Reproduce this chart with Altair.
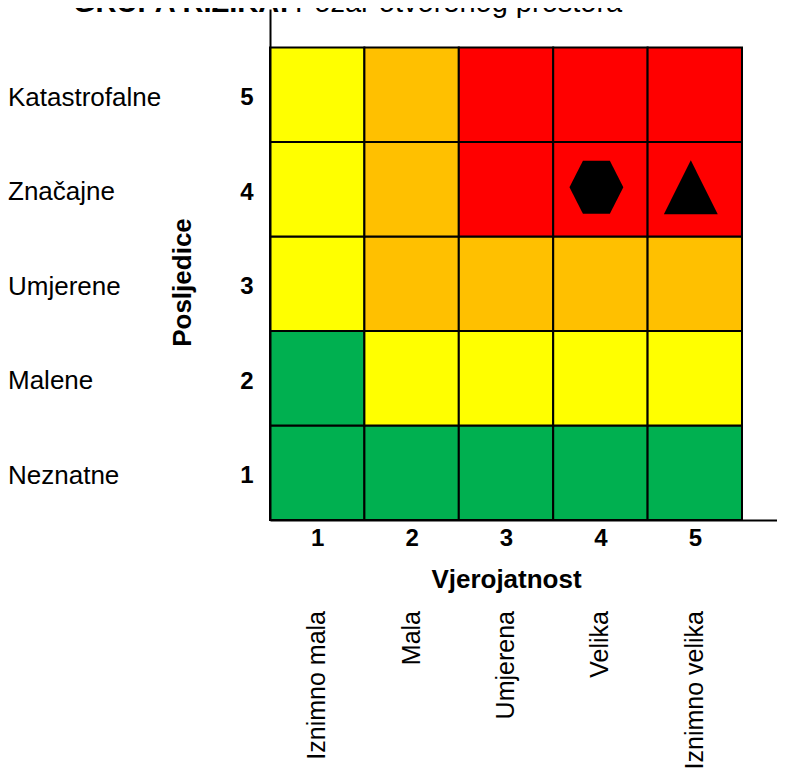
import altair as alt
import pandas as pd

# ---- data -------------------------------------------------------------
prob_values = [1, 2, 3, 4, 5]
prob_labels = ["Iznimno mala", "Mala", "Umjerena", "Velika", "Iznimno velika"]
cons_values = [1, 2, 3, 4, 5]
cons_labels = ["Neznatne", "Malene", "Umjerene", "Značajne", "Katastrofalne"]

# risk level of each cell: one list per consequence row (1..5), columns = probability 1..5
risk_row_1 = ["Nizak", "Nizak", "Nizak", "Nizak", "Nizak"]
risk_row_2 = ["Nizak", "Umjeren", "Umjeren", "Umjeren", "Umjeren"]
risk_row_3 = ["Umjeren", "Visok", "Visok", "Visok", "Visok"]
risk_row_4 = ["Umjeren", "Visok", "Vrlo visok", "Vrlo visok", "Vrlo visok"]
risk_row_5 = ["Umjeren", "Visok", "Vrlo visok", "Vrlo visok", "Vrlo visok"]
risk_levels = ["Nizak", "Umjeren", "Visok", "Vrlo visok"]
risk_colors = ["#00B050", "#FFFF00", "#FFC000", "#FF0000"]

marker_names = ["Šesterokut", "Trokut"]
marker_prob = [4, 5]
marker_cons = [4, 4]
marker_paths = [
    "M-1,0L-0.5,-0.98L0.5,-0.98L1,0L0.5,0.98L-0.5,0.98Z",
    "M0,-1L1,1L-1,1Z",
]

title_bold = "GRUPA RIZIKA:"
title_rest = "Požar otvorenog prostora"
x_title = "Vjerojatnost"
y_title = "Posljedice"

# ---- tables -----------------------------------------------------------
rows = [risk_row_1, risk_row_2, risk_row_3, risk_row_4, risk_row_5]
cells = pd.DataFrame(
    [
        {"p": p, "c": c, "rizik": rows[ci][pi]}
        for ci, c in enumerate(cons_values)
        for pi, p in enumerate(prob_values)
    ]
)
prob_df = pd.DataFrame({"p": prob_values, "label": prob_labels})
cons_df = pd.DataFrame({"c": cons_values, "label": cons_labels})
markers = pd.DataFrame({"p": marker_prob, "c": marker_cons, "marker": marker_names})
title_df1 = pd.DataFrame({"t": [title_bold]})
title_df2 = pd.DataFrame({"t": [title_rest]})

FONT = "Liberation Sans, Arial, Helvetica, sans-serif"
PAD_L = 262
PLOT_W = 507
PLOT_H = 511
PAD_T = 1
PAD_B = 249
CELL_W = 94.4
CELL_H = 94.5
X_MAX = 0.5 + PLOT_W / CELL_W
Y_MAX = 0.5 + PLOT_H / CELL_H

xscale = alt.Scale(domain=[0.5, X_MAX], nice=False, zero=False)
yscale = alt.Scale(domain=[0.5, Y_MAX], nice=False, zero=False)

xaxis = alt.Axis(
    values=prob_values, format="d", ticks=False, grid=False,
    domainColor="black", domainWidth=2, zindex=1,
    labelFont=FONT, labelFontSize=24, labelFontWeight="bold", labelColor="black",
    labelPadding=6,
    title=x_title, titleFont=FONT, titleFontSize=26, titleFontWeight="bold",
    titleColor="black", titleX=236, titleY=67, titleAlign="center",
    titleBaseline="alphabetic", titleAnchor="start",
)
yaxis = alt.Axis(
    values=cons_values, format="d", ticks=False, grid=False,
    domainColor="black", domainWidth=2, zindex=1,
    labelFont=FONT, labelFontSize=24, labelFontWeight="bold", labelColor="black",
    labelPadding=17, labelOffset=3,
    title=y_title, titleFont=FONT, titleFontSize=26, titleFontWeight="bold",
    titleColor="black", titleX=-88, titleY=273, titleAngle=270,
    titleAlign="center", titleBaseline="middle", titleAnchor="start",
)

X = alt.X("p:Q", scale=xscale, axis=xaxis)
Y = alt.Y("c:Q", scale=yscale, axis=yaxis)

grid = (
    alt.Chart(cells)
    .transform_calculate(p0="datum.p - 0.5", p1="datum.p + 0.5",
                         c0="datum.c - 0.5", c1="datum.c + 0.5")
    .mark_rect(stroke="black", strokeWidth=2)
    .encode(
        x=alt.X("p0:Q", scale=xscale, axis=xaxis),
        x2="p1:Q",
        y=alt.Y("c0:Q", scale=yscale, axis=yaxis),
        y2="c1:Q",
        color=alt.Color("rizik:N", scale=alt.Scale(domain=risk_levels, range=risk_colors), legend=None),
    )
)

pts = (
    alt.Chart(markers)
    .mark_point(filled=True, opacity=1, color="black", strokeWidth=0)
    .encode(
        x=X, y=Y,
        shape=alt.Shape("marker:N", scale=alt.Scale(domain=marker_names, range=marker_paths), legend=None),
        size=alt.value(2900),
        xOffset=alt.value(-4),
        yOffset=alt.value(-2),
    )
)

cons_text = (
    alt.Chart(cons_df)
    .mark_text(align="left", baseline="middle", dy=3, font=FONT, fontSize=26, color="black")
    .encode(x=alt.value(-262), y=Y, text="label:N")
)

prob_text = (
    alt.Chart(prob_df)
    .mark_text(align="right", baseline="middle", angle=270, font=FONT, fontSize=25, color="black")
    .encode(x=X, y=alt.value(602), text="label:N")
)

t1 = (
    alt.Chart(title_df1)
    .mark_text(align="left", baseline="alphabetic", font=FONT, fontSize=29,
               fontWeight="bold", color="black")
    .encode(x=alt.value(-197), y=alt.value(3), text="t:N")
)
t2 = (
    alt.Chart(title_df2)
    .mark_text(align="left", baseline="alphabetic", font=FONT, fontSize=29, color="black")
    .encode(x=alt.value(25), y=alt.value(3), text="t:N")
)

chart = (
    alt.layer(grid, pts, cons_text, prob_text, t1, t2)
    .properties(
        width=PLOT_W, height=PLOT_H,
        autosize=alt.AutoSizeParams(type="none"),
        padding={"left": PAD_L, "top": PAD_T, "right": 0, "bottom": PAD_B},
        background="white",
    )
    .configure_view(stroke=None)
)

chart.save("out.html", embed_options={"renderer": "svg", "actions": False})
